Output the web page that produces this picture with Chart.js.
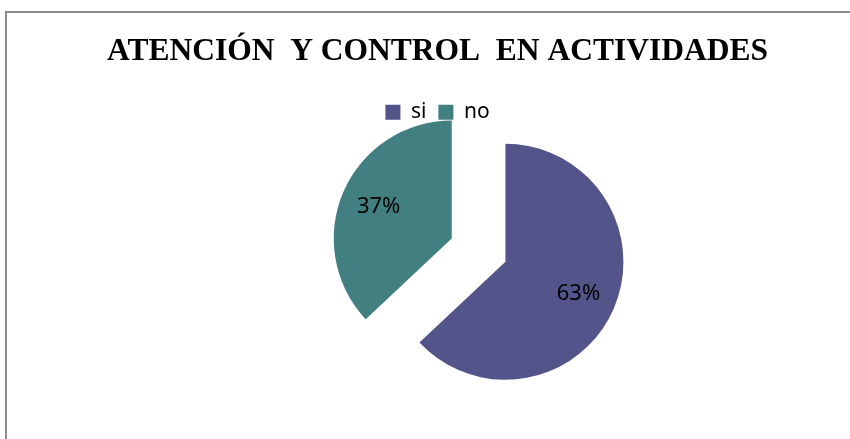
<!DOCTYPE html>
<html>
<head>
<meta charset="utf-8">
<script src="https://cdn.jsdelivr.net/npm/chart.js@4.4.1/dist/chart.umd.min.js"></script>
<style>
  html, body { margin: 0; padding: 0; background: #fff; overflow: hidden; }
  #frame { position: absolute; left: 5px; top: 11px; width: 900px; height: 500px; border: 2px solid #8c8c8c; }
  #chart { position: absolute; left: 0; top: 0; }
</style>
</head>
<body>
<div id="frame"></div>
<canvas id="chart" width="850" height="439"></canvas>
<script>
const chartTitle = 'ATENCIÓN  Y CONTROL  EN ACTIVIDADES';
const categories = ['si', 'no'];
const values = [63, 37];
const sliceColors = ['#53548a', '#417f80'];
// how far each slice is pulled away from the pie centre (px)
const explode = [74, -15.5];

// draws the slices pulled apart, then the percentage labels
const explodedPie = {
    id: 'explodedPie',
    beforeDatasetDraw(chart, args) {
        const ctx = chart.ctx;
        args.meta.data.forEach((arc, i) => {
            const mid = (arc.startAngle + arc.endAngle) / 2;
            ctx.save();
            ctx.translate(Math.cos(mid) * explode[i], Math.sin(mid) * explode[i]);
            arc.draw(ctx);
            ctx.restore();
        });
        return false;
    },
    afterDatasetsDraw(chart) {
        const ctx = chart.ctx;
        const meta = chart.getDatasetMeta(0);
        ctx.save();
        ctx.font = '22px "Noto Sans"';
        ctx.fillStyle = '#000';
        ctx.textAlign = 'center';
        ctx.textBaseline = 'middle';
        meta.data.forEach((arc, i) => {
            const mid = (arc.startAngle + arc.endAngle) / 2;
            const d = explode[i] + arc.outerRadius * 0.675;
            ctx.fillText(values[i] + '%', arc.x + Math.cos(mid) * d, arc.y + Math.sin(mid) * d);
        });
        ctx.restore();
    }
};

new Chart(document.getElementById('chart').getContext('2d'), {
    type: 'pie',
    data: {
        labels: categories,
        datasets: [{
            data: values,
            backgroundColor: sliceColors,
            borderWidth: 0,
            hoverOffset: 0,
            radius: 118
        }]
    },
    options: {
        responsive: false,
        animation: false,
        events: [],
        layout: {
            padding: { top: 22, bottom: 107, left: 25, right: 0 }
        },
        plugins: {
            title: {
                display: true,
                text: chartTitle,
                color: '#000',
                font: { family: '"Liberation Serif"', size: 31.5, weight: 'bold' },
                padding: { top: 11, bottom: 19 }
            },
            legend: {
                position: 'top',
                labels: {
                    color: '#000',
                    boxWidth: 15,
                    boxHeight: 15,
                    padding: 12,
                    font: { family: '"Noto Sans"', size: 21 }
                }
            },
            tooltip: { enabled: false }
        }
    },
    plugins: [explodedPie]
});
</script>
</body>
</html>
